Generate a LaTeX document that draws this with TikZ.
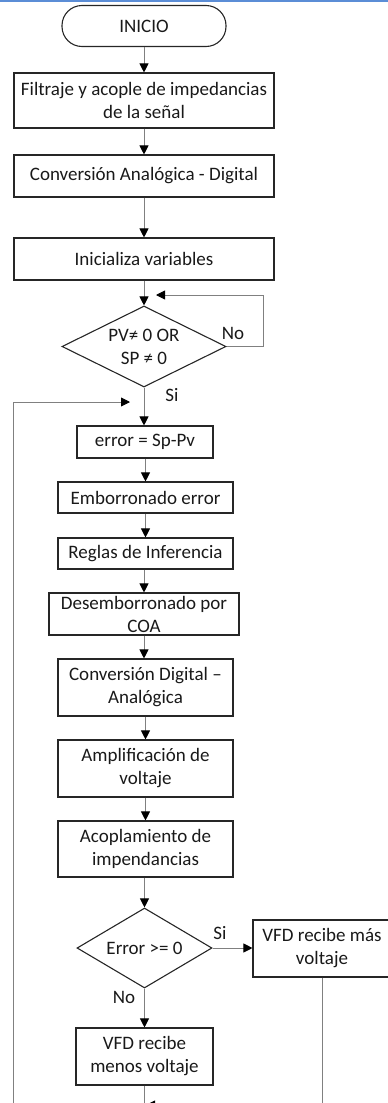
\documentclass[tikz,border=0pt]{standalone}
\usepackage{fontspec}
\setmainfont{Carlito}
\usetikzlibrary{arrows.meta,shapes.geometric}
\definecolor{edgeblue}{RGB}{91,141,214}
\definecolor{linkgray}{RGB}{128,128,128}
\definecolor{boxline}{RGB}{38,38,38}
\definecolor{ink}{RGB}{25,25,25}
\tikzset{
  txt/.style={font=\fontsize{19}{23}\selectfont, text=ink, align=center},
  procbox/.style={draw=boxline, line width=1.1pt, rectangle, inner sep=0pt, txt},
  termbox/.style={draw=boxline, line width=1.1pt, rectangle, rounded corners=20pt, inner sep=0pt, txt},
  decbox/.style={draw=boxline, line width=1.1pt, diamond, inner sep=0pt},
  link/.style={draw=linkgray, line width=0.9pt},
  arr/.style={link, -{Triangle[length=9pt,width=9pt,black]}},
  lbl/.style={txt}
}
\begin{document}
\begin{tikzpicture}[x=1pt,y=-1pt]
\useasboundingbox (0,0) rectangle (388,1103);
\clip (0,0) rectangle (388,1103);
\fill[edgeblue] (0,0) rectangle (388,1.6);

% main column
\node[termbox, minimum width=164pt, minimum height=41pt] (ini) at (144,26) {INICIO};
\node[procbox, minimum width=260pt, minimum height=55pt] (fil) at (144,100.5) {Filtraje y acople de impedancias\\de la señal};
\node[procbox, minimum width=260pt, minimum height=42pt] (adc) at (144,176) {Conversión Analógica - Digital};
\node[procbox, minimum width=260pt, minimum height=42pt] (var) at (144,259) {Inicializa variables};

\node[decbox, minimum width=164pt, minimum height=81pt] (chk) at (144,346.5) {};
\node[txt] at (chk) {PV≠ 0 OR\\SP ≠ 0};

\node[procbox, minimum width=136pt, minimum height=32pt] (err) at (145,442) {error = Sp-Pv};
\node[procbox, minimum width=175pt, minimum height=31pt] (fuz) at (145.5,497.5) {Emborronado error};
\node[procbox, minimum width=175pt, minimum height=31pt] (inf) at (145.5,553.5) {Reglas de Inferencia};
\node[procbox, minimum width=190pt, minimum height=42pt] (dfz) at (144,614) {Desemborronado por\\COA};
\node[procbox, minimum width=175pt, minimum height=57pt] (dac) at (145.5,687.5) {Conversión Digital –\\Analógica};
\node[procbox, minimum width=175pt, minimum height=57pt] (amp) at (145.5,768.5) {Amplificación de\\voltaje};
\node[procbox, minimum width=175pt, minimum height=56pt] (aco) at (145.5,849) {Acoplamiento de\\impendancias};

\node[decbox, minimum width=135pt, minimum height=80pt] (sgn) at (144.5,948) {};
\node[txt] at (sgn) {Error >= 0};

\node[procbox, minimum width=138pt, minimum height=57pt] (mas) at (322,948.5) {VFD recibe más\\voltaje};
\node[procbox, minimum width=137pt, minimum height=57pt] (men) at (144.5,1056.5) {VFD recibe\\menos voltaje};

% branch labels
\node[lbl] (no1) at (233,333) {No};
\node[lbl] (si1) at (172,395) {Si};
\node[lbl] (si2) at (220,933) {Si};
\node[lbl] (no2) at (124,997) {No};

% loop anchors
\coordinate (waitin) at (156,295);
\coordinate (loopin) at (130,402);
\coordinate (loopbot) at (13,1125);
\coordinate (menbot) at (144.5,1125);
\coordinate (joinin) at (146,1105);

% straight flow
\draw[arr] (ini) -- (fil);
\draw[arr] (fil) -- (adc);
\draw[arr] (adc) -- (var);
\draw[arr] (var.south) -- (chk.north);
\draw[arr] (chk.south) -- (err.north -| chk.south);
\draw[arr] (err.south -| fuz.north) -- (fuz.north);
\draw[arr] (fuz) -- (inf);
\draw[arr] (inf.south -| dfz.north) -- (dfz.north);
\draw[arr] (dfz.south) -- (dac.north -| dfz.south);
\draw[arr] (dac) -- (amp);
\draw[arr] (amp) -- (aco);
\draw[arr] (aco.south -| sgn.north) -- (sgn.north);
\draw[arr] (sgn.east) -- (mas.west |- sgn.east);
\draw[arr] (sgn.south) -- (men.north -| sgn.south);

% wait loop while both values are zero
\draw[arr] (chk.east) -- ++(37,0) |- (waitin);

% control loop back to the error computation
\draw[arr] (loopbot) |- (loopin);
\draw[link] (men.south) -- (menbot);
\draw[arr] (mas.south) |- (joinin);
\end{tikzpicture}
\end{document}
